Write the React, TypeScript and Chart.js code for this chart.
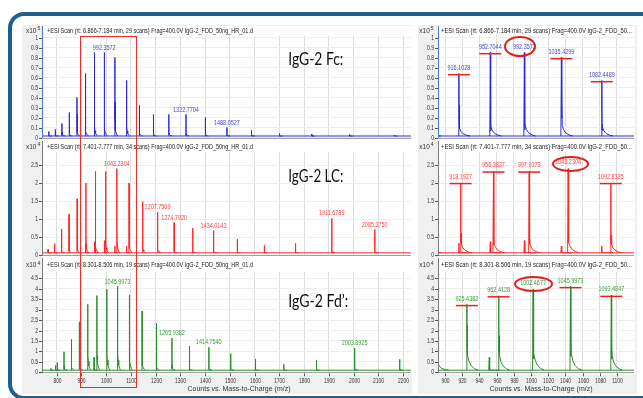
import React, { useEffect, useRef } from "react";
import { Chart, registerables } from "chart.js";

Chart.register(...registerables);

// ---------------- data ----------------
// IgG-2 Fc  (counts x10^5)
const fcMz = [768.5, 794.1, 821.4, 850.7, 882.2, 916.1028, 952.7044, 992.3572, 1035.4299, 1082.4489, 1134.0, 1190.6, 1253.2, 1322.7704, 1400.5, 1488.0527, 1587.1, 1700.4, 1831.2, 1983.7, 2163.9];
const fcInt = [0.06, 0.08, 0.14, 0.25, 0.40, 0.64, 0.85, 0.85, 0.80, 0.57, 0.32, 0.23, 0.23, 0.23, 0.20, 0.10, 0.07, 0.04, 0.035, 0.03, 0.02];
const fcSub = [0.02, 0.03, 0.05, 0.10, 0.23, 0.32, 0.12, 0.14, 0.35, 0.13, 0.05, 0.04, 0.04, 0.04, 0.03, 0.02, 0.015, 0.01, 0.01, 0.01, 0.01];
const fcTail = [0.015, 0.02, 0.03, 0.04, 0.06, 0.09, 0.10, 0.12, 0.12, 0.10, 0.05, 0.04, 0.04, 0.04, 0.035, 0.025, 0.02, 0.015, 0.012, 0.01, 0.01];
const fcBase = 0.015;
const fcLabelsFull = [992.3572, 1322.7704, 1488.0527];
const fcLabelsZoom = [916.1028, 952.7044, 992.3572, 1035.4299, 1082.4489];
const fcCircled = [992.3572];

// IgG-2 LC  (counts x10^4)
const lcMz = [765.3, 791.7, 819.9, 850.2, 882.9, 916.1, 918.1927, 952.7, 956.3837, 992.4, 997.9173, 1035.4, 1043.2304, 1082.4, 1092.8335, 1147.5, 1207.7509, 1274.792, 1349.8, 1434.0143, 1529.6, 1638.8, 1764.8, 1911.6789, 2085.375];
const lcInt = [0.16, 0.32, 0.72, 1.13, 1.56, 0.33, 2.0, 0.37, 2.32, 0.4, 2.32, 0.25, 2.4, 0.25, 2.0, 1.48, 1.19, 0.9, 0.75, 0.68, 0.44, 0.27, 0.32, 1.02, 0.71];
const lcSub = [0.05, 0.1, 0.2, 0.3, 0.5, 0.1, 0.6, 0.1, 0.5, 0.1, 0.55, 0.08, 0.8, 0.08, 0.55, 0.4, 0.3, 0.25, 0.2, 0.18, 0.12, 0.08, 0.1, 0.25, 0.18];
const lcTail = [0.04, 0.06, 0.1, 0.15, 0.2, 0.08, 0.3, 0.08, 0.3, 0.08, 0.3, 0.07, 0.35, 0.07, 0.3, 0.2, 0.15, 0.12, 0.1, 0.1, 0.08, 0.06, 0.07, 0.12, 0.1];
const lcBase = 0.06;
const lcLabelsFull = [1043.2304, 1207.7509, 1274.792, 1434.0143, 1911.6789, 2085.375];
const lcLabelsZoom = [918.1927, 956.3837, 997.9173, 1043.2304, 1092.8335];
const lcCircled = [1043.2304];

// IgG-2 Fd'  (counts x10^4)
const fdMz = [776.3, 795.0, 802.2, 829.8, 859.4, 891.2, 925.4382, 951.5, 962.4128, 1002.4677, 1045.9973, 1093.4847, 1145.5, 1202.8, 1265.9382, 1336.3, 1414.754, 1503.2, 1603.3, 1717.8, 1849.9, 2003.8925, 2186.0];
const fdInt = [0.19, 0.33, 0.47, 0.98, 1.58, 2.42, 3.25, 0.72, 3.67, 3.98, 4.11, 3.69, 2.93, 2.34, 1.63, 1.26, 1.2, 0.89, 0.64, 0.38, 0.57, 1.15, 0.62];
const fdSub = [0.08, 0.12, 0.15, 0.3, 0.5, 0.6, 2.25, 0.15, 1.75, 1.15, 1.4, 1.15, 0.6, 0.5, 0.35, 0.3, 0.3, 0.2, 0.15, 0.1, 0.12, 0.25, 0.15];
const fdTail = [0.05, 0.08, 0.1, 0.2, 0.3, 0.4, 0.8, 0.1, 0.8, 0.9, 0.9, 0.8, 0.45, 0.35, 0.25, 0.2, 0.2, 0.15, 0.12, 0.08, 0.1, 0.2, 0.12];
const fdBase = 0.1;
const fdLabelsFull = [1045.9973, 1265.9382, 1414.754, 2003.8925];
const fdLabelsZoom = [925.4382, 962.4128, 1002.4677, 1045.9973, 1093.4847];
const fdCircled = [1002.4677];

const scanInfo = [
  "+ESI Scan (rt: 6.866-7.184 min, 29 scans) Frag=400.0V IgG-2_FDD_50ng_HR_01.d",
  "+ESI Scan (rt: 7.401-7.777 min, 34 scans) Frag=400.0V IgG-2_FDD_50ng_HR_01.d",
  "+ESI Scan (rt: 8.301-8.506 min, 19 scans) Frag=400.0V IgG-2_FDD_50ng_HR_01.d",
];
const scanInfoShort = [
  "+ESI Scan (rt: 6.866-7.184 min, 29 scans) Frag=400.0V IgG-2_FDD_50...",
  "+ESI Scan (rt: 7.401-7.777 min, 34 scans) Frag=400.0V IgG-2_FDD_50...",
  "+ESI Scan (rt: 8.301-8.506 min, 19 scans) Frag=400.0V IgG-2_FDD_50...",
];
const exponents = ["5", "4", "4"];
const sampleNames = ["IgG-2 Fc:", "IgG-2 LC:", "IgG-2 Fd\u2019:"];
const xTitle = "Counts vs. Mass-to-Charge (m/z)";

// ---------------- styling / layout ----------------
const W = 643;
const H = 398;

type Series = {
  mz: number[]; h: number[]; sub: number[]; tail: number[]; base: number;
  full: number[]; zoom: number[]; circled: number[]; line: string; text: string;
};
const SERIES: Series[] = [
  { mz: fcMz, h: fcInt, sub: fcSub, tail: fcTail, base: fcBase, full: fcLabelsFull, zoom: fcLabelsZoom, circled: fcCircled, line: "#2a2ad8", text: "#4646d8" },
  { mz: lcMz, h: lcInt, sub: lcSub, tail: lcTail, base: lcBase, full: lcLabelsFull, zoom: lcLabelsZoom, circled: lcCircled, line: "#ff2626", text: "#ff4343" },
  { mz: fdMz, h: fdInt, sub: fdSub, tail: fdTail, base: fdBase, full: fdLabelsFull, zoom: fdLabelsZoom, circled: fdCircled, line: "#2a8c2a", text: "#3a9c3a" },
];

const ROWS = [
  { whiteTop: 26, whiteBottom: 141, chartTop: 35.5, chartBottom: 137.5, headerY: 31, yMax: 1.02, yStep: 0.1, bigY: 60, bigW: 55, axis: "#4a77d6", rightDy: -5, barDy: 1.2 },
  { whiteTop: 141, whiteBottom: 258, chartTop: 152.5, chartBottom: 255, headerY: 147, yMax: 2.85, yStep: 0.5, bigY: 176.7, bigW: 55, axis: "#7a7a7a", rightDy: -6.3, barDy: 0.5 },
  { whiteTop: 258, whiteBottom: 373.5, chartTop: 272, chartBottom: 372.3, headerY: 265.3, yMax: 4.8, yStep: 0.5, bigY: 301.7, bigW: 60, axis: "#7a7a7a", rightDy: -5.5, barDy: 1.2 },
];

const COLS = [
  { chartLeft: 43, chartRight: 411, xMin: 745, xMax: 2232, xStep: 100, x10X: 26, headerX: 47, headerW: 206, full: true, titleX: 239 },
  { chartLeft: 439, chartRight: 634, xMin: 893, xMax: 1119.9, xStep: 20, x10X: 419.3, headerX: 441, headerW: 191, full: false, titleX: 541 },
];

const PANELS = [
  { r: 0, c: 0 }, { r: 1, c: 0 }, { r: 2, c: 0 },
  { r: 0, c: 1 }, { r: 1, c: 1 }, { r: 2, c: 1 },
];

const FONT = '"Liberation Sans", Arial, sans-serif';

type TextOpt = { size: number; color: string; align?: "left" | "center" | "right"; sx?: number; width?: number; family?: string };
function drawText(ctx: CanvasRenderingContext2D, s: string, x: number, y: number, o: TextOpt) {
  ctx.save();
  ctx.font = `${o.size}px ${o.family ?? FONT}`;
  ctx.fillStyle = o.color;
  ctx.textBaseline = "middle";
  ctx.textAlign = "left";
  const w = ctx.measureText(s).width;
  const sx = o.width ? o.width / w : o.sx ?? 1;
  const dw = w * sx;
  let left = x;
  if (o.align === "center") left = x - dw / 2;
  else if (o.align === "right") left = x - dw;
  ctx.translate(left, y);
  ctx.scale(sx, 1);
  ctx.fillText(s, 0, 0);
  ctx.restore();
  return dw;
}

function buildPeaks(s: Series) {
  const pts: { x: number; y: number | null }[] = [];
  const b = s.base;
  s.mz.forEach((m, i) => {
    const t = Math.max(b, s.tail[i]);
    pts.push(
      { x: m - 0.6, y: b },
      { x: m, y: s.h[i] },
      { x: m + 0.3, y: Math.max(b, s.sub[i] * 0.55) },
      { x: m + 0.55, y: Math.max(b, s.sub[i]) },
      { x: m + 1.0, y: t },
      { x: m + 2.5, y: b + (t - b) * 0.6 },
      { x: m + 5, y: b + (t - b) * 0.3 },
      { x: m + 9, y: b + (t - b) * 0.1 },
      { x: m + 13, y: b },
      { x: m + 13.01, y: null }
    );
  });
  return pts;
}

function decor(r: number, c: number) {
  const row = ROWS[r];
  const col = COLS[c];
  const s = SERIES[r];
  return {
    id: "decor" + r + c,
    beforeDraw(chart: any) {
      const { ctx, chartArea: a } = chart;
      ctx.save();
      ctx.fillStyle = "#ffffff";
      ctx.fillRect(a.left - 1, row.whiteTop, a.right - a.left + 2, row.whiteBottom - row.whiteTop);
      ctx.restore();
    },
    afterDraw(chart: any) {
      const { ctx, chartArea: a } = chart;
      const xs = chart.scales.x;
      const ys = chart.scales.y;
      ctx.save();
      // y axis line
      ctx.lineWidth = 1;
      ctx.strokeStyle = row.axis;
      ctx.beginPath();
      ctx.moveTo(a.left - 0.5, row.whiteTop);
      ctx.lineTo(a.left - 0.5, a.bottom + 1);
      ctx.stroke();
      // x axis line
      ctx.strokeStyle = "#a0a0a0";
      ctx.beginPath();
      ctx.moveTo(a.left, Math.round(a.bottom) + 0.5);
      ctx.lineTo(a.right, Math.round(a.bottom) + 0.5);
      ctx.stroke();
      // y ticks
      ctx.strokeStyle = "#555";
      ys.ticks.forEach((t: any) => {
        if (t.value > row.yMax) return;
        const y = Math.round(ys.getPixelForValue(t.value)) + 0.5;
        ctx.beginPath();
        ctx.moveTo(a.left - 4, y);
        ctx.lineTo(a.left - 1, y);
        ctx.stroke();
        drawText(ctx, String(Number(t.value.toFixed(2))), a.left - 5, y, { size: 6.5, color: "#333", align: "right", sx: 0.78 });
      });
      // x ticks (bottom row only)
      if (r === 2) {
        xs.ticks.forEach((t: any) => {
          const x = Math.round(xs.getPixelForValue(t.value)) + 0.5;
          ctx.beginPath();
          ctx.moveTo(x, a.bottom + 1);
          ctx.lineTo(x, a.bottom + 4);
          ctx.stroke();
          drawText(ctx, String(t.value), x, 381.7, { size: 6.5, color: "#333", align: "center", sx: 0.76 });
        });
        drawText(ctx, xTitle, col.titleX, 389.5, { size: 6.5, color: "#333", align: "center", width: 103 });
      }
      // header
      const w10 = drawText(ctx, "x10", col.x10X, row.headerY, { size: 6.5, color: "#333" });
      drawText(ctx, exponents[r], col.x10X + w10 + 1, row.headerY - 2, { size: 5, color: "#333" });
      drawText(ctx, col.full ? scanInfo[r] : scanInfoShort[r], col.headerX, row.headerY, { size: 6.5, color: "#222", width: col.headerW });
      // big sample label
      if (col.full) {
        drawText(ctx, sampleNames[r], 288.3, row.bigY, { size: 17, color: "#111", width: row.bigW, family: 'Lato, "Open Sans", sans-serif' });
      }
      // peak labels
      const labs = col.full ? s.full : s.zoom;
      labs.forEach((m) => {
        const i = s.mz.indexOf(m);
        const x = xs.getPixelForValue(m);
        const yTop = ys.getPixelForValue(s.h[i]);
        const dy = col.full ? -4.7 : row.rightDy;
        drawText(ctx, m.toFixed(4), x, yTop + dy, { size: 6.5, color: s.text, align: "center", sx: 0.84 });
        if (!col.full && s.circled.indexOf(m) < 0) {
          ctx.strokeStyle = "#e8231d";
          ctx.lineWidth = 1.5;
          ctx.beginPath();
          ctx.moveTo(x - 11, yTop + row.barDy);
          ctx.lineTo(x + 11, yTop + row.barDy);
          ctx.stroke();
        }
      });
      ctx.restore();
    },
  };
}

function makeChart(canvas: HTMLCanvasElement, r: number, c: number) {
  const row = ROWS[r];
  const col = COLS[c];
  const s = SERIES[r];
  return new Chart(canvas, {
    type: "line",
    data: {
      datasets: [
        { data: [{ x: 700, y: s.base }, { x: 2300, y: s.base }], borderColor: s.line, borderWidth: 1, pointRadius: 0 },
        { data: buildPeaks(s) as any, borderColor: s.line, borderWidth: 1, pointRadius: 0, spanGaps: false, borderJoinStyle: "bevel" },
      ],
    },
    options: {
      responsive: false,
      animation: false,
      events: [],
      layout: {
        autoPadding: false,
        padding: { left: col.chartLeft, right: W - col.chartRight, top: row.chartTop, bottom: H - row.chartBottom },
      },
      plugins: { legend: { display: false }, tooltip: { enabled: false }, title: { display: false } },
      scales: {
        x: {
          type: "linear", min: col.xMin, max: col.xMax, bounds: "ticks",
          afterFit: (sc: any) => { sc.height = 0; },
          ticks: { display: false, stepSize: col.xStep, includeBounds: false },
          grid: { color: "#dddddd", drawTicks: false, lineWidth: 1 },
          border: { display: false },
        },
        y: {
          type: "linear", min: 0, max: row.yMax, bounds: "ticks",
          afterFit: (sc: any) => { sc.width = 0; },
          ticks: { display: false, stepSize: row.yStep, includeBounds: false },
          grid: { color: "#eeeeee", drawTicks: false, lineWidth: 1 },
          border: { display: false },
        },
      },
    } as any,
    plugins: [decor(r, c)],
  });
}

export default function App() {
  const refs = useRef<Array<HTMLCanvasElement | null>>([]);
  useEffect(() => {
    const charts: Chart[] = [];
    PANELS.forEach((p, i) => {
      const cv = refs.current[i];
      if (cv) charts.push(makeChart(cv, p.r, p.c));
    });
    return () => charts.forEach((ch) => ch.destroy());
  }, []);

  const ellipse = (cx: number, cy: number, w: number, h: number) => ({
    position: "absolute" as const, left: cx - w / 2, top: cy - h / 2, width: w, height: h,
    border: "2px solid #e0201a", borderRadius: "50%", boxSizing: "border-box" as const,
  });

  return (
    <div style={{ position: "fixed", left: 0, top: 0, width: W, height: H, background: "#fff", overflow: "hidden" }}>
      <div style={{ position: "absolute", left: 8, top: 12, width: 700, height: 388, border: "4px solid #1f5f8f", borderRadius: 16, boxSizing: "border-box" }} />
      <div style={{ position: "absolute", left: 22, top: 25, width: 390, height: 369, background: "#f0f0f0" }} />
      <div style={{ position: "absolute", left: 418, top: 25, width: 219, height: 369, background: "#f0f0f0" }} />
      {PANELS.map((p, i) => (
        <canvas
          key={i}
          ref={(el) => { refs.current[i] = el; }}
          width={W}
          height={H}
          style={{ position: "absolute", left: 0, top: 0, width: W, height: H }}
        />
      ))}
      <div style={{ position: "absolute", left: 79.5, top: 35.5, width: 57.5, height: 352.5, border: "1.5px solid #e8332c", boxSizing: "border-box" }} />
      <div style={ellipse(520, 46.7, 31.5, 21)} />
      <div style={ellipse(570.3, 163.8, 37.5, 16)} />
      <div style={ellipse(533.5, 283.7, 38.5, 16)} />
    </div>
  );
}
